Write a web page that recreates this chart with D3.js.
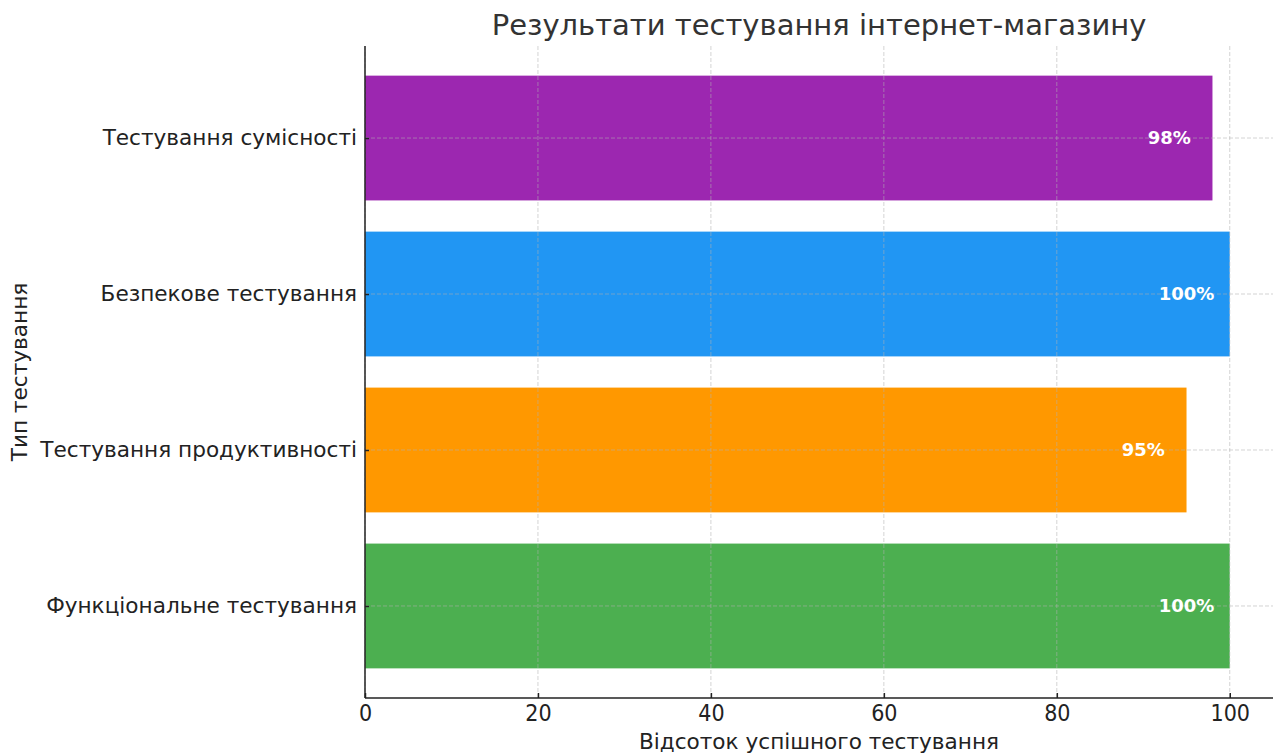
<!DOCTYPE html>
<html>
<head>
<meta charset="utf-8">
<script src="https://cdn.jsdelivr.net/npm/d3@7"></script>
<style>
  body { margin: 0; background: #fff; }
  svg { font-family: "DejaVu Sans", sans-serif; }
</style>
</head>
<body>
<svg width="1280" height="755"></svg>
<script>
const categories = [
  "Функціональне тестування",
  "Тестування продуктивності",
  "Безпекове тестування",
  "Тестування сумісності",
];
const values = [100, 95, 100, 98];
const barColors = ["#4CAF50", "#FF9800", "#2196F3", "#9C27B0"];
const xTicks = [0, 20, 40, 60, 80, 100];

const svg = d3.select("svg");
const margin = { top: 46, right: 7, bottom: 57, left: 365 };
const width = 1280 - margin.left - margin.right;
const height = 755 - margin.top - margin.bottom;

const g = svg.append("g")
  .attr("transform", `translate(${margin.left},${margin.top})`);

const x = d3.scaleLinear().domain([0, 105]).range([0, width]);
// matplotlib-style positions: index 0 at bottom
const y = d3.scaleLinear().domain([-0.59, 3.59]).range([height, 0]);
const step = y(0) - y(1);
const barH = step * 0.8;

// bars
g.selectAll("rect.bar")
  .data(values)
  .join("rect")
  .attr("class", "bar")
  .attr("x", x(0))
  .attr("y", (d, i) => y(i) - barH / 2)
  .attr("width", (d) => x(d) - x(0))
  .attr("height", barH)
  .attr("fill", (d, i) => barColors[i]);

// grid (drawn over bars, like the original)
const grid = g.append("g")
  .attr("stroke", "#b0b0b0")
  .attr("stroke-opacity", 0.55)
  .attr("stroke-width", 1)
  .attr("stroke-dasharray", "4,2");

grid.selectAll("line.vx")
  .data(xTicks)
  .join("line")
  .attr("x1", (d) => x(d)).attr("x2", (d) => x(d))
  .attr("y1", 0).attr("y2", height);

grid.selectAll("line.hy")
  .data(categories)
  .join("line")
  .attr("x1", 0).attr("x2", width)
  .attr("y1", (d, i) => y(i)).attr("y2", (d, i) => y(i));

// value labels
g.selectAll("text.val")
  .data(values)
  .join("text")
  .attr("class", "val")
  .attr("x", (d) => x(d - 5))
  .attr("y", (d, i) => y(i))
  .attr("dy", "0.35em")
  .attr("text-anchor", "middle")
  .attr("fill", "#fff")
  .attr("font-weight", "bold")
  .attr("font-size", 18)
  .text((d) => d + "%");

// axes
const xAxis = g.append("g")
  .attr("transform", `translate(0,${height})`)
  .call(d3.axisBottom(x).tickValues(xTicks).tickSize(-5).tickPadding(7).tickSizeOuter(0));
const yAxis = g.append("g")
  .call(d3.axisLeft(y).tickValues(d3.range(categories.length))
    .tickFormat((i) => categories[i]).tickSize(-4).tickPadding(8).tickSizeOuter(0));

[xAxis, yAxis].forEach((a) => {
  a.select(".domain").attr("stroke", "#222").attr("stroke-width", 1.5);
  a.selectAll(".tick line").attr("stroke", "#222").attr("stroke-width", 1.5);
  a.selectAll(".tick text")
    .attr("fill", "#222")
    .attr("font-family", "DejaVu Sans, sans-serif");
});
xAxis.selectAll(".tick text")
  .attr("font-size", 23)
  .attr("font-stretch", "condensed")
  .style("font-stretch", "condensed");
yAxis.selectAll(".tick text").attr("font-size", 21.6);
xAxis.select(".domain").attr("d", `M0,0H${width}`);
yAxis.select(".domain").attr("d", `M0,0V${height}`);

// title and axis labels
svg.append("text")
  .attr("x", margin.left + width / 2)
  .attr("y", 35)
  .attr("text-anchor", "middle")
  .attr("fill", "#333")
  .attr("font-size", 29)
  .text("Результати тестування інтернет-магазину");

svg.append("text")
  .attr("x", margin.left + width / 2)
  .attr("y", 749)
  .attr("text-anchor", "middle")
  .attr("fill", "#222")
  .attr("font-size", 21.6)
  .text("Відсоток успішного тестування");

svg.append("text")
  .attr("transform", `translate(27,${margin.top + height / 2}) rotate(-90)`)
  .attr("text-anchor", "middle")
  .attr("fill", "#222")
  .attr("font-size", 21.6)
  .text("Тип тестування");
</script>
</body>
</html>
